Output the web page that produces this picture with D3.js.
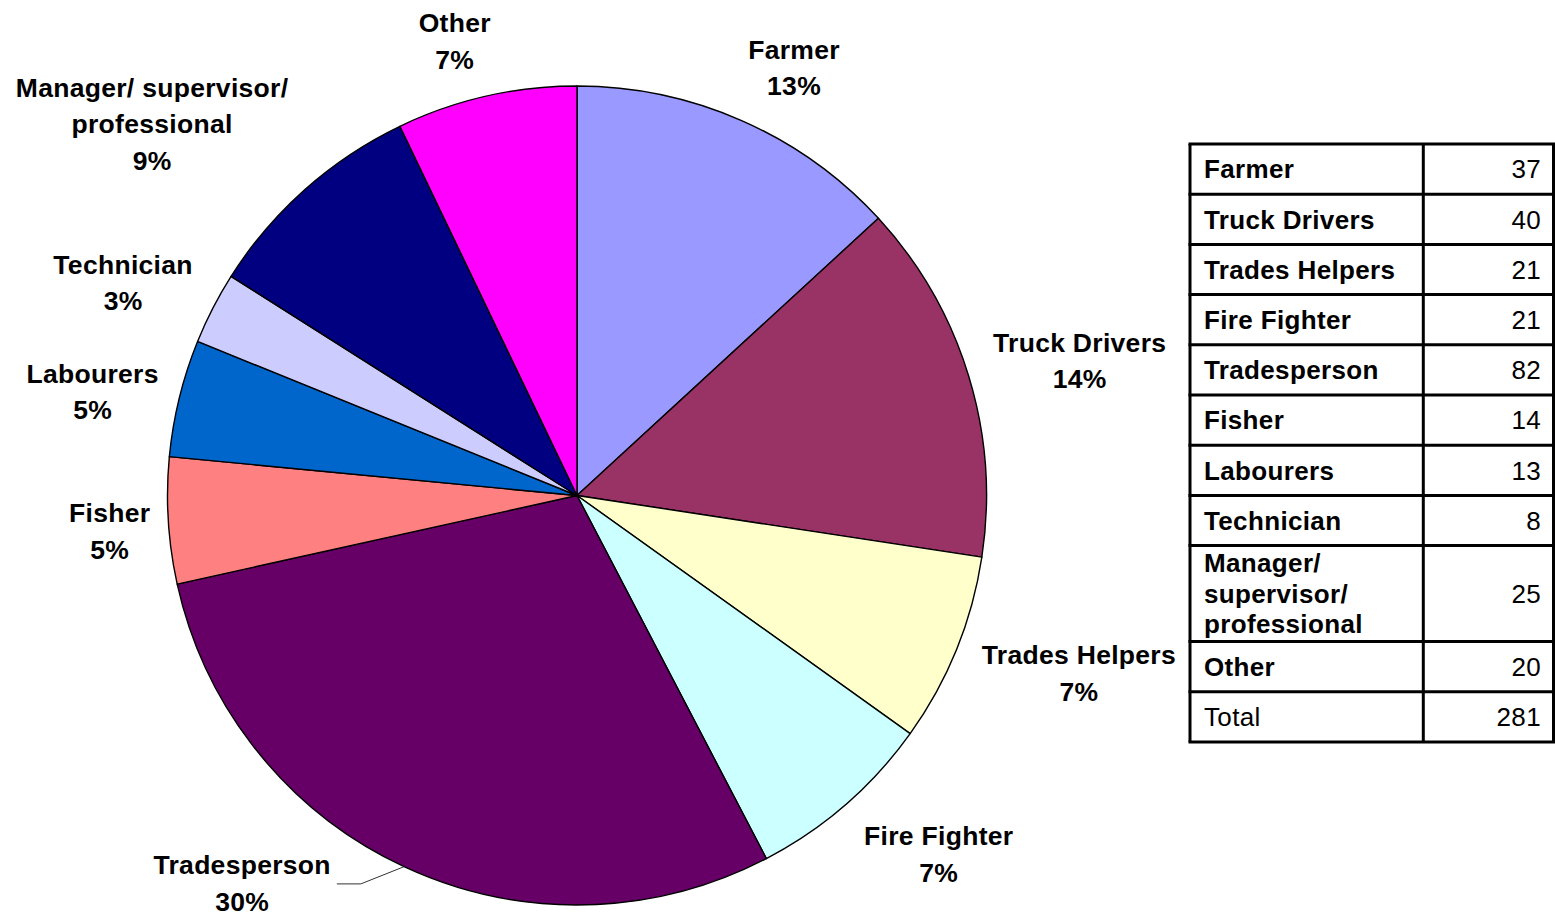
<!DOCTYPE html>
<html>
<head>
<meta charset="utf-8">
<script src="https://cdn.jsdelivr.net/npm/d3@7"></script>
<style>
  html, body { margin: 0; padding: 0; background: #fff; }
  svg { display: block; }
  text { font-family: "Liberation Sans", Arial, Helvetica, sans-serif; fill: #000; }
</style>
</head>
<body>
<svg id="chart" width="1555" height="917"></svg>
<script>
// ---- data ----
const categories = ["Farmer", "Truck Drivers", "Trades Helpers", "Fire Fighter", "Tradesperson",
  "Fisher", "Labourers", "Technician", "Manager/ supervisor/ professional", "Other"];
const counts = [37, 40, 21, 21, 82, 14, 13, 8, 25, 20];
const pctLabels = ["13%", "14%", "7%", "7%", "30%", "5%", "5%", "3%", "9%", "7%"];
const pieLabelLines = [["Farmer"], ["Truck Drivers"], ["Trades Helpers"], ["Fire Fighter"], ["Tradesperson"],
  ["Fisher"], ["Labourers"], ["Technician"], ["Manager/ supervisor/", "professional"], ["Other"]];
const tableLabelLines = [["Farmer"], ["Truck Drivers"], ["Trades Helpers"], ["Fire Fighter"], ["Tradesperson"],
  ["Fisher"], ["Labourers"], ["Technician"], ["Manager/", "supervisor/", "professional"], ["Other"]];
const totalLabel = "Total";
const colors = ["#9999FF", "#993366", "#FFFFCC", "#CCFFFF", "#660066",
  "#FF8080", "#0066CC", "#CCCCFF", "#000080", "#FF00FF"];

// ---- layout / style ----
const cx = 577, cy = 495.5, R = 409.5;
const labelFont = 26.5, labelSpacing = 0.3, lineGap = 36.5, labelPad = 20;
// manual adjustments of label placement (like dragged labels in the original)
const labelNudge = [[26, -1.5], [9, 1], [14, 2], [31, 7], [-116, -35], [2, 7], [-3, 7], [-10, 0], [-49, -10], [-19, 0]];
const leaderFor = [4];

const svg = d3.select("#chart");
const g = svg.append("g").attr("transform", `translate(${cx},${cy})`);

const pie = d3.pie().sort(null).value(d => d).startAngle(0).endAngle(2 * Math.PI);
const arcs = pie(counts);
const arc = d3.arc().innerRadius(0).outerRadius(R);

g.selectAll("path.slice")
  .data(arcs)
  .join("path")
  .attr("class", "slice")
  .attr("d", arc)
  .attr("fill", (d, i) => colors[i])
  .attr("stroke", "#000")
  .attr("stroke-width", 1.4)
  .attr("stroke-linejoin", "round");

// labels
const capH = labelFont * 0.716;
arcs.forEach((a, i) => {
  const lines = pieLabelLines[i].concat([pctLabels[i]]);
  const lg = g.append("g");
  const texts = lines.map(t => lg.append("text")
    .attr("text-anchor", "middle")
    .attr("font-weight", "bold")
    .attr("font-size", labelFont)
    .attr("letter-spacing", labelSpacing)
    .text(t));
  const w = d3.max(texts, t => t.node().getComputedTextLength());
  const h = lines.length * lineGap;
  const th = (a.startAngle + a.endAngle) / 2;
  const s = Math.sin(th), c = Math.cos(th);
  const px = (R + labelPad) * s, py = -(R + labelPad) * c;
  const lx = px + (w / 2) * s + labelNudge[i][0];
  const ly = py - (h / 2) * c + labelNudge[i][1];
  texts.forEach((t, k) => {
    t.attr("x", lx).attr("y", ly - h / 2 + lineGap * k + lineGap / 2 + capH / 2);
  });
  if (leaderFor.includes(i)) {
    const ex = R * s, ey = -R * c;
    const sx = lx + w / 2 + 6;
    g.append("polyline")
      .attr("points", `${sx},${ly + 1} ${sx + 24},${ly + 1} ${ex},${ey}`)
      .attr("fill", "none")
      .attr("stroke", "#333")
      .attr("stroke-width", 1);
  }
});

// ---- table ----
const tx0 = 1190, tx1 = 1423.3, tx2 = 1553.5, ty0 = 144;
const rowBase = 50.2, extraLine = 22.9, tFont = 26, tSpacing = 0.35, tLineGap = 30.5;
const rows = categories.map((c, i) => ({ lines: tableLabelLines[i], value: counts[i], bold: true }));
rows.push({ lines: [totalLabel], value: d3.sum(counts), bold: false });

const tg = svg.append("g");
let y = ty0;
const rowYs = [y];
rows.forEach(r => {
  const h = rowBase + (r.lines.length - 1) * extraLine;
  const mid = y + h / 2;
  const n = r.lines.length;
  r.lines.forEach((t, k) => {
    tg.append("text")
      .attr("x", tx0 + 14)
      .attr("y", mid + (k - (n - 1) / 2) * tLineGap + tFont * 0.716 / 2)
      .attr("font-size", tFont)
      .attr("letter-spacing", tSpacing)
      .attr("font-weight", r.bold ? "bold" : "normal")
      .text(t);
  });
  tg.append("text")
    .attr("x", tx2 - 12.5)
    .attr("y", mid + tFont * 0.716 / 2)
    .attr("text-anchor", "end")
    .attr("font-size", tFont)
    .attr("letter-spacing", tSpacing)
    .text(r.value);
  y += h;
  rowYs.push(y);
});

rowYs.forEach(yy => {
  tg.append("line").attr("x1", tx0 - 1.5).attr("x2", tx2 + 1.5).attr("y1", yy).attr("y2", yy)
    .attr("stroke", "#000").attr("stroke-width", 3);
});
[tx0, tx1, tx2].forEach(xx => {
  tg.append("line").attr("x1", xx).attr("x2", xx).attr("y1", ty0).attr("y2", y)
    .attr("stroke", "#000").attr("stroke-width", 3);
});
</script>
</body>
</html>
